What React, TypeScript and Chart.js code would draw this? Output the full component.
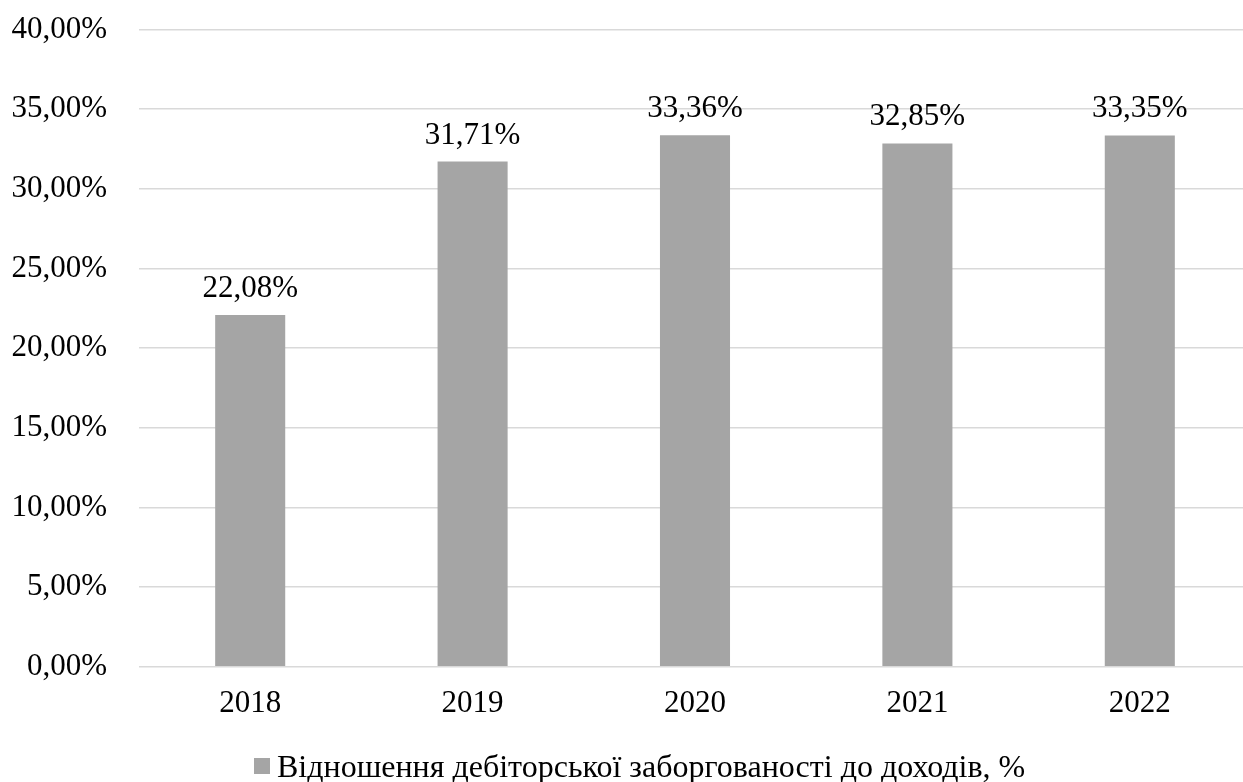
import React, { useEffect, useRef } from "react";
import { Chart, registerables } from "chart.js";

Chart.register(...registerables);

const categories = ["2018", "2019", "2020", "2021", "2022"];
const values = [22.08, 31.71, 33.36, 32.85, 33.35];
const seriesLabel = "Відношення дебіторської заборгованості до доходів, %";
const yMin = 0;
const yMax = 40;
const yStep = 5;

const FONT = "'Liberation Serif', 'Times New Roman', serif";
const BAR_COLOR = "#A5A5A5";

const fmt = (v: number) => v.toFixed(2).replace(".", ",") + "%";

export default function App() {
  const ref = useRef<HTMLCanvasElement | null>(null);

  useEffect(() => {
    document.body.style.margin = "0";
    document.body.style.overflow = "hidden";
    const canvas = ref.current;
    if (!canvas) return;

    const labelsPlugin = {
      id: "valueLabels",
      afterDatasetsDraw(chart: any) {
        const ctx = chart.ctx;
        const meta = chart.getDatasetMeta(0);
        ctx.save();
        ctx.font = `31px ${FONT}`;
        ctx.fillStyle = "#000";
        ctx.textAlign = "center";
        ctx.textBaseline = "alphabetic";
        meta.data.forEach((bar: any, i: number) => {
          ctx.fillText(fmt(values[i]), bar.x, bar.y - 18);
        });
        ctx.restore();
      },
    };

    const legendPlugin = {
      id: "customLegend",
      afterDraw(chart: any) {
        const ctx = chart.ctx;
        ctx.save();
        ctx.fillStyle = BAR_COLOR;
        ctx.fillRect(254, 758, 16, 16);
        ctx.font = `32px ${FONT}`;
        ctx.fillStyle = "#000";
        ctx.textAlign = "left";
        ctx.textBaseline = "alphabetic";
        ctx.fillText(seriesLabel, 277, 777);
        ctx.restore();
      },
    };

    const chart = new Chart(canvas, {
      type: "bar",
      data: {
        labels: categories,
        datasets: [
          {
            label: seriesLabel,
            data: values,
            backgroundColor: BAR_COLOR,
            borderWidth: 0,
            barPercentage: 0.315,
            categoryPercentage: 1,
          },
        ],
      },
      options: {
        animation: false,
        responsive: false,
        devicePixelRatio: 1,
        layout: { padding: { top: 29.5, bottom: 55.3, left: 0, right: 0 } },
        plugins: {
          legend: { display: false },
          tooltip: { enabled: false },
        },
        scales: {
          x: {
            grid: { display: false, drawTicks: false },
            border: { display: false },
            ticks: {
              font: { family: FONT, size: 31 },
              color: "#000",
              padding: 19,
              maxRotation: 0,
            },
            afterFit(scale: any) {
              scale.height = 60;
              scale.paddingLeft = 0;
              scale.paddingRight = 0;
            },
          },
          y: {
            min: yMin,
            max: yMax,
            grid: { color: "#D9D9D9", lineWidth: 1.5, drawTicks: false },
            border: { display: false },
            ticks: {
              stepSize: yStep,
              font: { family: FONT, size: 31 },
              color: "#000",
              padding: 32,
              callback: (v: any) => fmt(Number(v)),
            },
            afterFit(scale: any) {
              scale.width = 139;
              scale.paddingTop = 0;
              scale.paddingBottom = 0;
            },
          },
        },
      },
      plugins: [labelsPlugin, legendPlugin],
    } as any);

    return () => chart.destroy();
  }, []);

  return (
    <div style={{ position: "fixed", left: 0, top: 0, width: 1251, height: 782, background: "#fff" }}>
      <canvas ref={ref} width={1251} height={782} style={{ display: "block" }} />
    </div>
  );
}
